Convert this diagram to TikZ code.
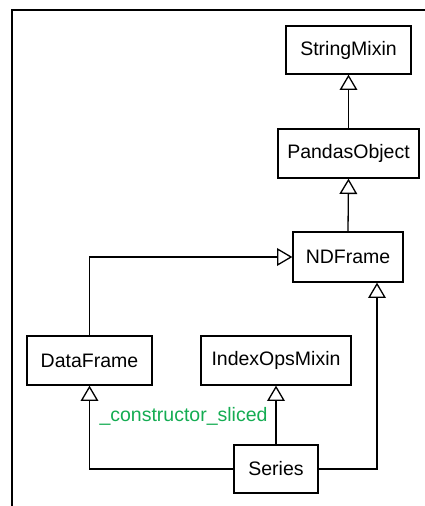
\documentclass[tikz,border=0pt]{standalone}
\usepackage{fontspec}
\setmainfont{Liberation Sans}
\usetikzlibrary{arrows.meta}
\definecolor{lblgreen}{RGB}{20,172,82}
\tikzset{
  cls/.style={draw, line width=1.3pt, inner sep=0pt, align=center, font=\fontsize{19.5}{23}\selectfont},
  inh/.style={line width=1.3pt, -{Triangle[open, scale=2.4]}},
}
\begin{document}
\begin{tikzpicture}[x=1pt,y=1pt]
\useasboundingbox (0,0) rectangle (425,-506);
\draw[line width=1.3pt] (12,-506) -- (12,-10) -- (425,-10);
\node[cls, minimum width=125pt, minimum height=48pt] (sm) at (348.5,-50) {StringMixin};
\node[cls, minimum width=141pt, minimum height=49pt] (po) at (348.5,-153.5) {PandasObject};
\node[cls, minimum width=110pt, minimum height=50pt] (nd) at (348,-257) {NDFrame};
\node[cls, minimum width=125pt, minimum height=49pt] (df) at (89.5,-360.5) {DataFrame};
\node[cls, minimum width=150pt, minimum height=49pt] (io) at (276,-360.5) {IndexOpsMixin};
\node[cls, minimum width=84pt, minimum height=48pt] (se) at (276,-469) {Series};
\coordinate (ndin) at ([xshift=29pt]nd.south);
\draw[inh] (po.north) -- (sm.south);
\draw[inh] (nd.north) -- (po.south);
\draw[inh] (df.north) |- (nd.west);
\draw[inh] (se.west) -| (df.south);
\draw[inh] (se.north) -- (io.south);
\draw[inh] (se.east) -| (ndin);
\node[text=lblgreen, inner sep=0pt, font=\fontsize{19.5}{23}\selectfont] (lbl) at (183.5,-416) {\_constructor\_sliced};
\end{tikzpicture}
\end{document}
